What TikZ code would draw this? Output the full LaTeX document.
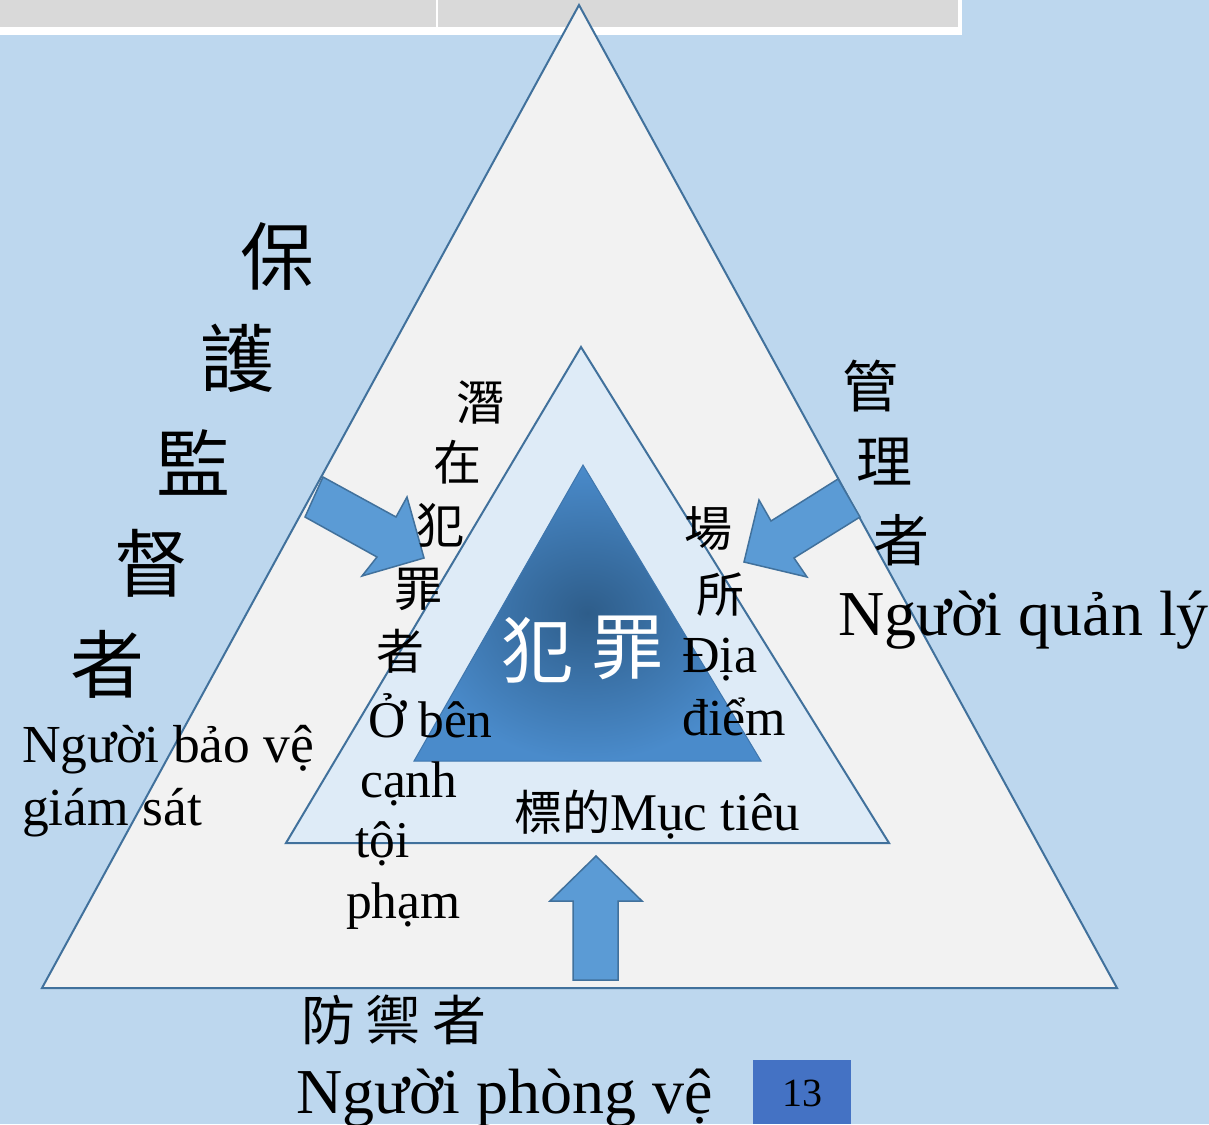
\documentclass[tikz,border=0pt]{standalone}
\usepackage{fontspec}
\setmainfont{Liberation Serif}
\newfontfamily\cjk{Noto Sans CJK TC}
\definecolor{bgblue}{HTML}{BDD7EE}
\definecolor{topgray}{HTML}{D9D9D9}
\definecolor{outerfill}{HTML}{F2F2F2}
\definecolor{midfill}{HTML}{DEEBF7}
\definecolor{edgeblue}{HTML}{41719C}
\definecolor{arrowblue}{HTML}{5B9BD5}
\definecolor{innerdark}{HTML}{2E5D8A}
\definecolor{innerlight}{HTML}{4A8BCB}
\definecolor{pagebox}{HTML}{4472C4}
\newcommand{\fsz}[1]{\fontsize{#1}{#1}\selectfont}
\begin{document}
\begin{tikzpicture}[x=1pt,y=-1pt,
  tri/.style={draw=edgeblue,line width=2pt,line join=miter},
  bigarrow/.style={fill=arrowblue,draw=edgeblue,line width=1.5pt,line join=miter},
  lat/.style={inner sep=0pt,anchor=base west,align=left},
  cjch/.style={inner sep=0pt,anchor=center,font=\cjk\fsz{#1}},
  cjch/.default=48]
\useasboundingbox (0,0) rectangle (1209,1124);
\fill[bgblue] (0,0) rectangle (1209,1124);
% top table strip
\fill[white] (0,0) rectangle (962,35);
\fill[topgray] (0,0) rectangle (436,27);
\fill[topgray] (438,0) rectangle (958,27);
% triangles
\draw[tri,fill=outerfill] (579,5) -- (1117,988) -- (42,988) -- cycle;
\draw[tri,fill=midfill] (581,347) -- (889,843) -- (286,843) -- cycle;
\shade[inner color=innerdark,outer color=innerlight] (583,465) -- (761,761) -- (414,761) -- cycle;
\draw[draw=innerlight!85!black,line width=1pt] (583,465) -- (761,761) -- (414,761) -- cycle;
% arrows
\draw[bigarrow] (323,477) -- (396,517) -- (407,497) -- (424,558) -- (362,576) -- (377,557) -- (305,517) -- cycle;
\draw[bigarrow] (838,479) -- (771,521) -- (759,500) -- (744,562) -- (807,577) -- (794,558) -- (860,517) -- cycle;
\draw[bigarrow] (596,856) -- (642,901) -- (618,901) -- (618,980) -- (573,980) -- (573,901) -- (550,901) -- cycle;
% left big column
\node[cjch=74] (g1) at (277,256) {保};
\node[cjch=74] (g2) at (237,358) {護};
\node[cjch=74] (g3) at (193,462) {監};
\node[cjch=74] (g4) at (151,563) {督};
\node[cjch=74] (g5) at (107,664) {者};
\node[lat,font=\fsz{53.5}] (gv1) at (22,762) {Người bảo vệ};
\node[lat,font=\fsz{53.5}] (gv2) at (22,825) {giám sát};
% right column
\node[cjch=56] (m1) at (870,386) {管};
\node[cjch=56] (m2) at (884,462) {理};
\node[cjch=56] (m3) at (901,540) {者};
\node[lat,font=\fsz{64}] (mv) at (838,635) {Người quản lý};
% offender column
\node[cjch=48] (o1) at (480,402) {潛};
\node[cjch=48] (o2) at (457,462) {在};
\node[cjch=48] (o3) at (440,525) {犯};
\node[cjch=48] (o4) at (418,589) {罪};
\node[cjch=48] (o5) at (400,651) {者};
\node[lat,font=\fsz{51.5}] (ov1) at (368,737) {Ở bên};
\node[lat,font=\fsz{51.5}] (ov2) at (360,797) {cạnh};
\node[lat,font=\fsz{51.5}] (ov3) at (355,857) {tội};
\node[lat,font=\fsz{51.5}] (ov4) at (346,918) {phạm};
% place
\node[cjch=48] (p1) at (708,529) {場};
\node[cjch=48] (p2) at (720,595) {所};
\node[lat,font=\fsz{52}] (pv1) at (682,672) {Địa};
\node[lat,font=\fsz{52}] (pv2) at (682,735) {điểm};
% crime
\node[cjch=72,text=white] (c1) at (537,650) {犯};
\node[cjch=72,text=white] (c2) at (627,648) {罪};
% target
\node[lat,font=\fsz{53}] (t1) at (514,830) {{\cjk\fsz{48}標的}Mục tiêu};
% guardian
\node[inner sep=0pt,font=\cjk\fsz{54}] (d1) at (394,1020) {防\hspace{12pt}禦\hspace{12pt}者};
\node[lat,font=\fsz{64}] (dv) at (296,1113) {Người phòng vệ};
% page number
\fill[pagebox] (753,1060) rectangle (851,1124);
\node[inner sep=0pt,font=\fsz{40}] (pg) at (802,1093) {13};
\end{tikzpicture}
\end{document}
